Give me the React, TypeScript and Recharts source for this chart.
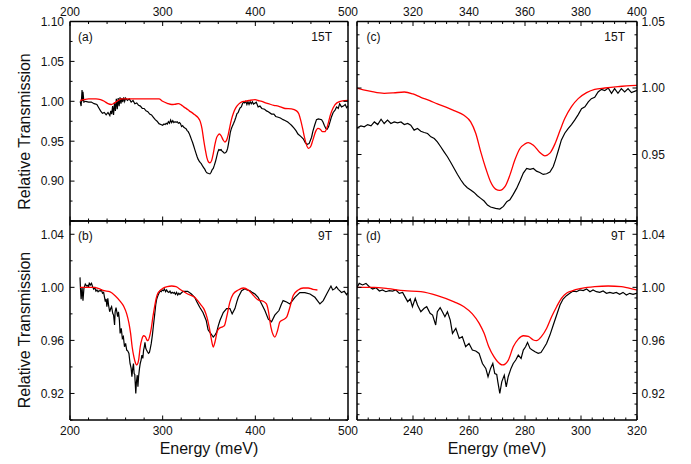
import React from 'react';
import { LineChart, Line, XAxis, YAxis } from 'recharts';

const W = 691;
const H = 464;
const FONT = '"Liberation Sans", Arial, sans-serif';

// 15 T measured transmission (energy in meV)
const exp15E = [
  211, 212, 213, 213.5, 214, 215, 217, 220, 223, 226, 229, 231, 233, 235, 237, 239, 241, 243, 244, 245,
  246, 247, 248, 249, 250, 251, 252, 253, 254, 255, 256, 257, 258, 259, 260, 262, 264, 266, 268, 270,
  272, 274, 276, 278, 280, 282, 284, 286, 288, 290, 292, 294, 296, 298, 300, 301.4, 302.6, 303.8, 305, 306.2,
  307.4, 308.6, 309.7, 310.9, 312.1, 313.3, 314.5, 315.7, 316.9, 318.1, 319.2, 320.4, 321.6, 322.8, 324, 325.2, 326.4, 327.6, 328.7, 329.9,
  331.1, 332.3, 333.5, 334.7, 335.9, 337.1, 338.2, 339.4, 340.6, 341.8, 343, 344.2, 345.4, 346.6, 347.7, 349.5, 351, 352.3, 353.5, 354.6,
  355.8, 357, 358.2, 359.4, 360.6, 361.8, 363, 364.1, 365.3, 366.5, 367.7, 368.9, 370.1, 370.9, 371.9, 373, 374.2, 375.4, 376.6, 377.8,
  379, 380.2, 381.4, 382.6, 383.7, 384.9, 386.1, 387.3, 388.5, 389.7, 390.9, 392, 393.2, 394.4, 395.6, 396.8, 398, 399.8, 401, 403,
  405, 407, 410, 412, 414, 417.5, 420, 422, 424.7, 427, 430, 432, 435, 437, 439, 442, 444, 446, 449, 451.7,
  454, 456, 458, 460.7, 462, 464, 466, 468, 471.5, 473, 474.4, 476, 477.5, 479, 480.5, 482, 484, 486, 487.7, 489.5,
  491, 493, 495, 497, 498.5, 500,
];
const exp15T = [
  1.0, 0.994, 1.014, 1.0, 1.012, 0.999, 1.0, 0.999, 0.999, 0.997, 0.996, 0.992, 0.988, 0.985, 0.986, 0.983, 0.986, 0.982, 0.988, 0.984,
  0.994, 0.983, 0.998, 0.988, 1.003, 0.99, 1.004, 0.994, 1.005, 0.997, 1.004, 0.999, 1.005, 1.0, 1.004, 1.001, 1.003, 0.999, 1.001, 0.997,
  0.998, 0.995, 0.994, 0.991, 0.991, 0.988, 0.987, 0.984, 0.983, 0.98, 0.977, 0.975, 0.972, 0.971, 0.97, 0.9715, 0.9708, 0.9725, 0.9715, 0.9745,
  0.9725, 0.9765, 0.9733, 0.9758, 0.9733, 0.9745, 0.9738, 0.9745, 0.9725, 0.9733, 0.972, 0.9683, 0.9695, 0.9675, 0.9665, 0.9658, 0.9633, 0.962, 0.9595, 0.9558,
  0.952, 0.9483, 0.944, 0.9395, 0.935, 0.9308, 0.9275, 0.925, 0.9233, 0.9215, 0.919, 0.917, 0.915, 0.912, 0.9105, 0.9095, 0.909, 0.911, 0.9145, 0.916,
  0.92, 0.9245, 0.93, 0.936, 0.9395, 0.9388, 0.9395, 0.9375, 0.9365, 0.935, 0.9355, 0.9368, 0.941, 0.946, 0.953, 0.961, 0.966, 0.9695, 0.9725, 0.976,
  0.98, 0.9845, 0.9858, 0.9895, 0.992, 0.993, 0.997, 0.999, 0.998, 1.0, 0.996, 0.9995, 0.996, 0.9995, 0.997, 0.9995, 0.9965, 0.998, 0.999, 0.993,
  0.994, 0.991, 0.99, 0.988, 0.987, 0.984, 0.984, 0.981, 0.98, 0.979, 0.977, 0.976, 0.974, 0.972, 0.97, 0.966, 0.963, 0.959, 0.956, 0.953,
  0.948, 0.946, 0.947, 0.955, 0.962, 0.97, 0.977, 0.978, 0.977, 0.974, 0.97, 0.966, 0.965, 0.968, 0.974, 0.98, 0.986, 0.989, 0.993, 0.991,
  0.997, 0.993, 0.994, 0.996, 0.992, 0.994,
];

// 15 T simulation
const fit15E = [
  211, 215, 220, 228, 233, 237, 241, 244.6, 248, 252, 256, 260, 270, 280, 290, 296, 300, 305, 309.7, 313,
  316.9, 320, 322.8, 326, 328.7, 332, 334.7, 338.2, 340.6, 342.4, 344.2, 346, 347.7, 349.5, 351, 352.9, 354.6, 356.4, 358.2, 360,
  361.2, 363, 365.3, 367.1, 368.9, 370.7, 372.5, 374.2, 376.6, 379, 382, 384.9, 388.5, 393.2, 399.8, 403, 407, 411, 414, 420,
  424.7, 432, 439, 444.5, 447, 449, 451, 453, 455, 457.5, 460, 462, 465, 467.5, 470, 472.5, 475, 477, 479, 481,
  484, 488, 494, 500,
];
const fit15T = [
  1.001, 1.002, 1.003, 1.003, 1.002, 1.0, 0.997, 0.996, 0.998, 1.001, 1.003, 1.003, 1.003, 1.003, 1.003, 1.003, 1.0, 0.9975, 0.996, 0.9963,
  0.997, 0.9955, 0.993, 0.9905, 0.988, 0.9855, 0.983, 0.9795, 0.9745, 0.966, 0.952, 0.9395, 0.9295, 0.924, 0.923, 0.926, 0.9345, 0.946, 0.9545, 0.958,
  0.959, 0.957, 0.9515, 0.949, 0.951, 0.958, 0.968, 0.977, 0.986, 0.992, 0.9965, 0.999, 1.0, 1.001, 1.002, 1.001, 1.0, 0.998, 0.997, 0.995,
  0.994, 0.991, 0.9905, 0.988, 0.984, 0.976, 0.966, 0.955, 0.946, 0.941, 0.944, 0.951, 0.962, 0.966, 0.965, 0.962, 0.962, 0.966, 0.974, 0.983,
  0.992, 0.998, 1.0005, 1.001,
];

// 9 T measured transmission
const exp9E = [
  210.8, 211.3, 212, 213, 214, 215, 216.5, 218, 219.4, 220, 220.8, 222, 223.2, 224.4, 225.6, 226.8, 228, 229.1, 230.3, 231.5,
  232.7, 233.9, 235.1, 236.3, 237.1, 238.1, 239, 239.8, 240.8, 241.6, 242.8, 244, 244.9, 246.1, 247, 248.1, 248.7, 249.7, 250.5, 251.4,
  252.3, 253.3, 254.1, 255.3, 256.5, 257.6, 258.8, 260, 261.2, 262.4, 263.6, 264.8, 266, 266.8, 267.7, 268.5, 269.2, 269.9, 270.3, 271,
  271.7, 272.6, 273.3, 274, 275, 275.8, 276.7, 277.6, 278.6, 279.4, 280.2, 280.9, 281.8, 282.6, 283.6, 284.7, 285.7, 286.5, 287.7, 288.9,
  290.1, 291.3, 292.5, 293.6, 294.8, 296, 297.2, 298.4, 299.6, 300.8, 302, 303.2, 304.3, 305.5, 306.7, 307.9, 309.1, 310.3, 311.5, 312.6,
  313.8, 315, 316.2, 317.4, 318.6, 319.8, 322, 327, 331, 334.5, 337, 340, 343.5, 347, 349, 351, 354.6, 356.4, 358.2, 360,
  361.8, 363.6, 365.4, 369, 372.6, 375, 378, 380, 381.6, 385.2, 388.8, 391, 394, 397, 399.6, 403, 406.8, 410.3, 414, 417.5,
  421, 425.5, 428, 430, 433.7, 437.3, 440, 442.7, 448, 453.5, 459, 464.3, 467, 469.7, 473.3, 477, 481.6, 483.5, 485.9, 487.5,
  489.5, 491, 493, 496, 498.5, 500,
];
const exp9T = [
  1.0075, 0.999, 0.991, 1.0, 0.99, 0.999, 1.0025, 1.001, 1.0015, 1.0, 1.003, 1.0018, 1.003, 1.0005, 0.9987, 0.9997, 0.9972, 0.998, 0.9967, 0.9975,
  0.9972, 0.998, 0.9955, 0.9962, 0.993, 0.9892, 0.9912, 0.9854, 0.9917, 0.9867, 0.9816, 0.9842, 0.9854, 0.9804, 0.9791, 0.9716, 0.9816, 0.9847, 0.9816, 0.9779,
  0.9816, 0.9753, 0.9653, 0.9691, 0.9615, 0.9628, 0.9552, 0.9577, 0.9527, 0.952, 0.9502, 0.9426, 0.9389, 0.9326, 0.9389, 0.9426, 0.935, 0.9343, 0.9288, 0.92,
  0.9288, 0.9338, 0.925, 0.9326, 0.9389, 0.9426, 0.9452, 0.9489, 0.9464, 0.9527, 0.9552, 0.9585, 0.954, 0.9527, 0.9514, 0.9502, 0.9509, 0.9535, 0.9577, 0.964,
  0.9716, 0.9791, 0.9867, 0.9912, 0.9937, 0.9955, 0.9972, 0.9967, 0.998, 0.9975, 0.9987, 0.9967, 0.998, 0.9967, 0.9962, 0.9972, 0.9955, 0.9962, 0.9955, 0.9962,
  0.9947, 0.9962, 0.9942, 0.9955, 0.9947, 0.9955, 0.997, 0.997, 0.995, 0.9925, 0.989, 0.985, 0.981, 0.975, 0.968, 0.966, 0.9625, 0.964, 0.966, 0.971,
  0.975, 0.978, 0.981, 0.984, 0.984, 0.98, 0.984, 0.989, 0.9925, 0.9975, 0.999, 0.998, 0.9975, 0.996, 0.995, 0.9925, 0.9875, 0.9825, 0.976, 0.974,
  0.979, 0.9825, 0.987, 0.99, 0.989, 0.9875, 0.99, 0.9925, 0.996, 0.996, 0.995, 0.9925, 0.99, 0.9875, 0.99, 0.995, 1.001, 0.998, 0.999, 1.0005,
  0.9985, 0.9975, 0.996, 0.997, 0.9945, 0.996,
];

// 9 T simulation
const fit9E = [
  210.8, 215, 220, 226.2, 231, 236.9, 242.8, 248.7, 254.7, 258.2, 261.2, 263.6, 265.4, 267.1, 268.9, 270, 272, 274, 275.8, 277.6,
  279.4, 281.2, 283, 284.1, 285.9, 287.7, 289.5, 291.3, 293, 294.8, 296.6, 300.2, 304.9, 309.7, 314.4, 319.8, 327, 334.5, 341, 345,
  348, 350.5, 352.5, 354.6, 356.5, 359, 361, 363.6, 366.5, 369, 372.6, 376.2, 381.6, 387, 392.4, 397.8, 403, 408.5, 412, 414,
  416.8, 419.3, 421, 424, 426.5, 430, 433.7, 437.3, 441, 446.3, 451.7, 457, 462, 467,
];
const fit9T = [
  1.0, 1.0, 1.0, 1.0, 0.999, 0.9975, 0.9967, 0.9937, 0.989, 0.9854, 0.98, 0.973, 0.9653, 0.955, 0.9477, 0.9445, 0.9415, 0.945, 0.9552, 0.961,
  0.9635, 0.963, 0.9603, 0.9598, 0.963, 0.969, 0.9779, 0.9854, 0.9917, 0.9955, 0.9972, 0.9992, 1.0005, 1.001, 1.0005, 0.998, 0.995, 0.9925, 0.987, 0.983,
  0.977, 0.969, 0.961, 0.955, 0.959, 0.967, 0.969, 0.97, 0.971, 0.9775, 0.989, 0.995, 0.998, 0.9995, 0.998, 0.994, 0.9905, 0.9895, 0.9875, 0.9825,
  0.97, 0.964, 0.9625, 0.9675, 0.974, 0.9755, 0.9775, 0.985, 0.994, 0.998, 0.9995, 0.9995, 0.9985, 0.998,
];

const toRows = (e: number[], t: number[]) => e.map((x, i) => ({ e: x, t: t[i] }));

const rows15Exp = toRows(exp15E, exp15T);
const rows15Fit = toRows(fit15E, fit15T);
const rows9Exp = toRows(exp9E, exp9T);
const rows9Fit = toRows(fit9E, fit9T);

function steps(from: number, to: number, step: number): number[] {
  const out: number[] = [];
  const n = Math.round((to - from) / step);
  for (let i = 0; i <= n; i++) out.push(+(from + i * step).toFixed(4));
  return out;
}

type Side = 'top' | 'bottom' | 'left' | 'right';

const has = (list: number[], v: number) => list.some((m) => Math.abs(m - v) < 1e-6);

function makeTick(side: Side, majors: number[], labels: number[], digits: number) {
  return (props: any) => {
    const { x, y, payload } = props;
    const v = payload.value as number;
    const len = has(majors, v) ? 4.5 : 2.5;
    const label = has(labels, v) ? v.toFixed(digits) : null;
    let line;
    let text = null;
    if (side === 'bottom') {
      line = <line x1={x} y1={y} x2={x} y2={y - len} />;
      if (label) text = <text x={x} y={y + 15} textAnchor="middle">{label}</text>;
    } else if (side === 'top') {
      line = <line x1={x} y1={y} x2={x} y2={y + len} />;
      if (label) text = <text x={x} y={y - 6} textAnchor="middle">{label}</text>;
    } else if (side === 'left') {
      line = <line x1={x} y1={y} x2={x + len} y2={y} />;
      if (label) text = <text x={x - 6} y={y + 4.3} textAnchor="end">{label}</text>;
    } else {
      line = <line x1={x} y1={y} x2={x - len} y2={y} />;
      if (label) text = <text x={x + 4.5} y={y + 4.3} textAnchor="start">{label}</text>;
    }
    return (
      <g>
        <g stroke="#000" strokeWidth={1}>{line}</g>
        {text && (
          <g fill="#111" stroke="none" fontSize={12} fontFamily={FONT}>{text}</g>
        )}
      </g>
    );
  };
}

interface PanelProps {
  // plot rectangle in page pixels
  left: number;
  right: number;
  top: number;
  bottom: number;
  xDomain: [number, number];
  yDomain: [number, number];
  xTicks: number[];
  xMajor: number[];
  yTicks: number[];
  yMajor: number[];
  topLabels: number[];
  bottomLabels: number[];
  leftLabels: number[];
  rightLabels: number[];
  exp: { e: number; t: number }[];
  fit: { e: number; t: number }[];
}

const axisLine = { stroke: '#000', strokeWidth: 1.5 };

function Panel(p: PanelProps) {
  // each axis reserves 1px outside the plot
  const margin = { left: p.left - 1, top: p.top - 1, right: W - p.right - 1, bottom: H - p.bottom - 1 };
  return (
    <div style={{ position: 'absolute', left: 0, top: 0 }}>
      <LineChart width={W} height={H} margin={margin}>
        <XAxis xAxisId="b" orientation="bottom" type="number" dataKey="e" domain={p.xDomain} allowDataOverflow
          ticks={p.xTicks} interval={0} height={1} tickSize={0} tickMargin={0} tickLine={false} axisLine={axisLine}
          tick={makeTick('bottom', p.xMajor, p.bottomLabels, 0)} />
        <XAxis xAxisId="t" orientation="top" type="number" dataKey="e" domain={p.xDomain} allowDataOverflow
          ticks={p.xTicks} interval={0} height={1} tickSize={0} tickMargin={0} tickLine={false} axisLine={axisLine}
          tick={makeTick('top', p.xMajor, p.topLabels, 0)} />
        <YAxis yAxisId="l" orientation="left" type="number" domain={p.yDomain} allowDataOverflow
          ticks={p.yTicks} interval={0} width={1} tickSize={0} tickMargin={0} tickLine={false} axisLine={axisLine}
          tick={makeTick('left', p.yMajor, p.leftLabels, 2)} />
        <YAxis yAxisId="r" orientation="right" type="number" domain={p.yDomain} allowDataOverflow
          ticks={p.yTicks} interval={0} width={1} tickSize={0} tickMargin={0} tickLine={false} axisLine={axisLine}
          tick={makeTick('right', p.yMajor, p.rightLabels, 2)} />
        <Line xAxisId="b" yAxisId="l" data={p.exp} dataKey="t" type="linear" stroke="#000" strokeWidth={1.2}
          dot={false} activeDot={false} isAnimationActive={false} />
        <Line xAxisId="b" yAxisId="l" data={p.fit} dataKey="t" type="monotone" stroke="#ff0000" strokeWidth={1.3}
          dot={false} activeDot={false} isAnimationActive={false} />
      </LineChart>
    </div>
  );
}

const wideTicks = steps(200, 500, 20);
const wideMajor = [200, 300, 400, 500];

export default function App() {
  return (
    <div style={{ position: 'absolute', left: 0, top: 0, width: W, height: H, background: '#fff' }}>
      <Panel
        left={70} right={348} top={21.5} bottom={221}
        xDomain={[200, 500]} yDomain={[0.85, 1.1]}
        xTicks={wideTicks} xMajor={wideMajor}
        yTicks={steps(0.85, 1.1, 0.025)} yMajor={[0.85, 0.9, 0.95, 1.0, 1.05, 1.1]}
        topLabels={wideMajor} bottomLabels={[]} leftLabels={[0.9, 0.95, 1.0, 1.05, 1.1]} rightLabels={[]}
        exp={rows15Exp} fit={rows15Fit}
      />
      <Panel
        left={70} right={348} top={221} bottom={420}
        xDomain={[200, 500]} yDomain={[0.9, 1.05]}
        xTicks={wideTicks} xMajor={wideMajor}
        yTicks={steps(0.9, 1.04, 0.02)} yMajor={[0.92, 0.96, 1.0, 1.04]}
        topLabels={[]} bottomLabels={wideMajor} leftLabels={[0.92, 0.96, 1.0, 1.04]} rightLabels={[]}
        exp={rows9Exp} fit={rows9Fit}
      />
      <Panel
        left={357} right={637} top={21.5} bottom={221}
        xDomain={[300, 400]} yDomain={[0.9, 1.05]}
        xTicks={steps(300, 400, 4)} xMajor={[300, 320, 340, 360, 380, 400]}
        yTicks={steps(0.9, 1.05, 0.01)} yMajor={[0.9, 0.95, 1.0, 1.05]}
        topLabels={[320, 340, 360, 380, 400]} bottomLabels={[]} leftLabels={[]} rightLabels={[0.95, 1.0, 1.05]}
        exp={rows15Exp} fit={rows15Fit}
      />
      <Panel
        left={357} right={637} top={221} bottom={420}
        xDomain={[220, 320]} yDomain={[0.9, 1.05]}
        xTicks={steps(220, 320, 4)} xMajor={[220, 240, 260, 280, 300, 320]}
        yTicks={steps(0.904, 1.048, 0.008)} yMajor={[0.92, 0.96, 1.0, 1.04]}
        topLabels={[]} bottomLabels={[240, 260, 280, 300, 320]} leftLabels={[]} rightLabels={[0.92, 0.96, 1.0, 1.04]}
        exp={rows9Exp} fit={rows9Fit}
      />
      <svg width={W} height={H} style={{ position: 'absolute', left: 0, top: 0, pointerEvents: 'none' }}
        fontFamily={FONT} fill="#111">
        <text x={30} y={131.5} fontSize={16} textAnchor="middle" transform="rotate(-90 30 131.5)">Relative Transmission</text>
        <text x={30} y={330} fontSize={16} textAnchor="middle" transform="rotate(-90 30 330)">Relative Transmission</text>
        <text x={209} y={454} fontSize={16} textAnchor="middle">Energy (meV)</text>
        <text x={497} y={454} fontSize={16} textAnchor="middle">Energy (meV)</text>
        <text x={78} y={40.5} fontSize={12}>(a)</text>
        <text x={332} y={40.5} fontSize={12} textAnchor="end">15T</text>
        <text x={366.5} y={40.5} fontSize={12}>(c)</text>
        <text x={625} y={40.5} fontSize={12} textAnchor="end">15T</text>
        <text x={78} y={240} fontSize={12}>(b)</text>
        <text x={332} y={240} fontSize={12} textAnchor="end">9T</text>
        <text x={366} y={240} fontSize={12}>(d)</text>
        <text x={625} y={240} fontSize={12} textAnchor="end">9T</text>
      </svg>
    </div>
  );
}
